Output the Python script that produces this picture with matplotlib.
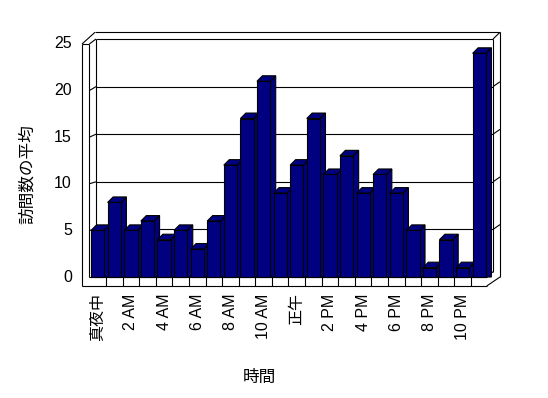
import matplotlib
matplotlib.use("Agg")
import matplotlib.pyplot as plt
from matplotlib.patches import Polygon

# Data: average visits per hour
hours = list(range(24))
visits = [5, 8, 5, 6, 4, 5, 3, 6, 12, 17, 21, 9, 12, 17, 11, 13, 9, 11, 9, 5, 1, 4, 1, 24]
tick_hours = list(range(0, 24, 2))
tick_labels = ["真夜中", "2 AM", "4 AM", "6 AM", "8 AM", "10 AM",
               "正午", "2 PM", "4 PM", "6 PM", "8 PM", "10 PM"]
y_ticks = [0, 5, 10, 15, 20, 25]

plt.rcParams['font.family'] = ['Liberation Sans', 'Noto Sans CJK JP']

fig = plt.figure(figsize=(5.48, 3.98), dpi=100)
ax = fig.add_axes([0, 0, 1, 1])
# one hour = 16.59 px, one visit = 9.32 px
ax.set_xlim(-97.7 / 16.59, (548 - 97.7) / 16.59)
ax.set_ylim(-(398 - 277) / 9.32, 277 / 9.32)
ax.axis('off')

navy = '#000080'
lw = 0.8
k = 'black'
bw = 0.4            # half bar width
dx, dy = 0.33, 0.59  # bar depth
ky = 1.0215         # back wall scale
ymax = y_ticks[-1]
wl, wr = -0.10, 23.83      # back wall inner x
ol, orr = -0.163, 24.25    # back wall outer x
fl, fi = -0.946, -0.506    # left wall front outer / inner
fb = -0.966                # floor front bottom
fr = 23.45                 # floor front right
top_in, top_out = ymax * ky, ymax * ky + 0.72


def line(xs, ys):
    ax.plot(xs, ys, color=k, lw=lw, solid_capstyle='butt')


# back wall
line([wl, wr], [top_in, top_in])
line([wl, wl], [0, top_in])
line([wr, wr], [0.57, top_in])
line([ol, orr], [top_out, top_out])
line([orr, orr], [0, top_out])
line([wr, orr], [top_in, top_out])
for v in y_ticks[1:-1]:
    line([wl, wr], [v * ky, v * ky])
    line([wr, orr], [v * ky, v * ky + 0.52])
    line([fi, wl], [v, v * ky])

# left wall
line([fl, fl], [fb, ymax])
line([fi, fi], [0, ymax])
line([fl, fi], [ymax, ymax])
line([fl, ol], [ymax, top_out])
line([fi, wl], [ymax, top_in])

# floor
line([fi, fr], [0, 0])
line([fl, fr], [fb, fb])
line([fr, orr], [fb, 0])
line([fr, wr], [0, 0.57])
for h in hours[:-1]:
    line([h + 0.5, h + 0.5], [fb, 0])

# bars
for h, v in zip(hours, visits):
    z = 3 + h * 0.01
    side = [(h + bw, 0), (h + bw + dx, 0), (h + bw + dx, v + dy), (h + bw, v)]
    top = [(h - bw, v), (h + bw, v), (h + bw + dx, v + dy), (h - bw + dx, v + dy)]
    front = [(h - bw, 0), (h + bw, 0), (h + bw, v), (h - bw, v)]
    for pts in (side, top, front):
        ax.add_patch(Polygon(pts, closed=True, facecolor=navy, edgecolor=k,
                             lw=lw, zorder=z))

# labels
for v in y_ticks:
    ax.text(-1.55, v, str(v), ha='right', va='center', fontsize=11.5)
for h, lab in zip(tick_hours, tick_labels):
    ax.text(h, -1.75, lab, rotation=90, ha='center', va='top', fontsize=11.5)

ax.text(-4.28, 11.05, "訪問数の平均", rotation=90, ha='center', va='center', fontsize=12)
ax.text(9.72, -10.73, "時間", ha='center', va='center', fontsize=12)

fig.savefig("out.png", dpi=100)
